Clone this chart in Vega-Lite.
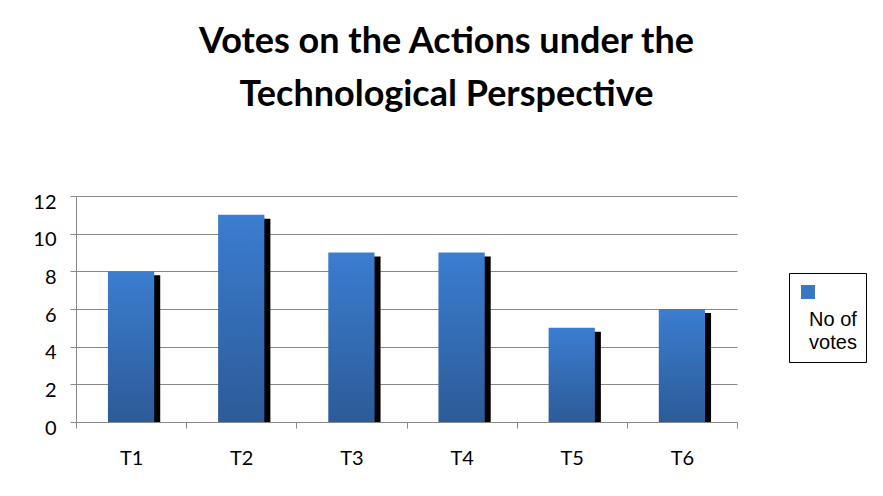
{
  "$schema": "https://vega.github.io/schema/vega-lite/v6.json",
  "width": 661,
  "height": 226,
  "autosize": {"type": "none"},
  "padding": {"left": 76, "top": 196, "right": 146, "bottom": 74},
  "background": "white",
  "title": {
    "text": ["Votes on the Actions under the", "Technological Perspective"],
    "font": "Lato",
    "fontSize": 36,
    "fontWeight": "bold",
    "color": "#000000",
    "lineHeight": 53,
    "anchor": "middle",
    "dx": 40,
    "offset": 78
  },
  "data": {
    "values": [
      {"cat": "T1", "votes": 8, "series": "No of votes"},
      {"cat": "T2", "votes": 11, "series": "No of votes"},
      {"cat": "T3", "votes": 9, "series": "No of votes"},
      {"cat": "T4", "votes": 9, "series": "No of votes"},
      {"cat": "T5", "votes": 5, "series": "No of votes"},
      {"cat": "T6", "votes": 6, "series": "No of votes"}
    ]
  },
  "encoding": {
    "x": {
      "field": "cat",
      "type": "nominal",
      "sort": null,
      "scale": {"paddingInner": 0, "paddingOuter": 0},
      "axis": {
        "title": null,
        "labelAngle": 0,
        "labelFont": "Lato",
        "labelFontSize": 20,
        "labelColor": "#000000",
        "labelPadding": 20,
        "domainColor": "#888888",
        "tickColor": "#888888",
        "tickSize": 6,
        "tickBand": "extent",
        "grid": false
      }
    },
    "y": {
      "field": "votes",
      "type": "quantitative",
      "scale": {"domain": [0, 12], "nice": false},
      "axis": {
        "title": null,
        "values": [0, 2, 4, 6, 8, 10, 12],
        "labelFont": "Lato",
        "labelFontSize": 20,
        "labelColor": "#000000",
        "labelPadding": 14,
        "labelOffset": 6,
        "domainColor": "#888888",
        "tickColor": "#888888",
        "tickSize": 6,
        "grid": true,
        "gridColor": "#888888",
        "gridWidth": 1
      }
    }
  },
  "layer": [
    {
      "mark": {"type": "bar", "color": "#000000", "xOffset": 6, "yOffset": 4, "clip": true, "width": {"band": 0.42}}
    },
    {
      "mark": {
        "type": "bar",
        "width": {"band": 0.42},
        "fill": {"gradient": "linear", "x1": 0, "y1": 0, "x2": 0, "y2": 1,
                 "stops": [{"offset": 0, "color": "#3b7dd0"}, {"offset": 1, "color": "#2c5b98"}]}
      }
    },
    {
      "mark": {"type": "bar", "width": {"band": 0.42}, "opacity": 0},
      "encoding": {
        "color": {
          "field": "series",
          "type": "nominal",
          "scale": {"range": ["#3a76c6"]},
          "legend": {
            "title": null,
            "orient": "none",
            "legendX": 713,
            "legendY": 77,
            "strokeColor": "#000000",
            "padding": 9,
            "symbolType": "square",
            "symbolSize": 196,
            "symbolOpacity": 1,
            "symbolStrokeWidth": 0,
            "labelFont": "Liberation Sans",
            "labelFontSize": 20,
            "labelColor": "#000000",
            "labelAlign": "center",
            "labelOffset": 15,
            "labelBaseline": "top",
            "labelExpr": "['No of', 'votes']",
            "encode": {"labels": {"update": {"dy": {"value": 18}, "lineHeight": {"value": 23}}}}
          }
        }
      }
    }
  ],
  "config": {"view": {"stroke": null}}
}
